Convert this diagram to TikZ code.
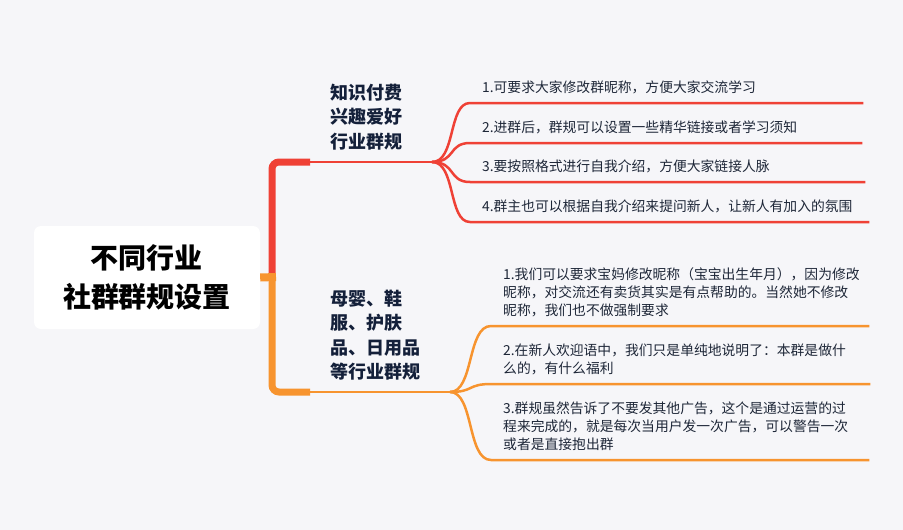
\documentclass[tikz,border=0pt]{standalone}
\usepackage{fontspec}
\setmainfont{Noto Sans CJK SC}
\usepackage{xcolor}
\usepackage{tikz}

\definecolor{bgc}{HTML}{F6F6F9}
\definecolor{redc}{HTML}{EF4136}
\definecolor{orgc}{HTML}{F7942F}
\definecolor{inkc}{HTML}{14203A}
\definecolor{txtc}{HTML}{1E2738}

\begin{document}
\begin{tikzpicture}[
    x=1pt, y=-1pt,
    rootbox/.style={fill=white, rounded corners=7pt, minimum width=226pt, minimum height=103pt, inner sep=0pt, align=center, font=\fontsize{28}{39}\selectfont\bfseries, text=black},
    lab/.style={anchor=west, inner sep=0pt, align=left, font=\fontsize{18}{24.5}\selectfont\bfseries, text=inkc},
    item/.style={anchor=south west, inner xsep=12pt, inner ysep=9pt, align=left, text width=#1, font=\fontsize{13.8}{18}\selectfont, text=txtc},
    trunk/.style={draw=#1, line width=7pt, rounded corners=7pt},
    twig/.style={draw=#1, line width=2.5pt},
]
\fill[bgc] (0,0) rectangle (903,530);

% Root
\node[rootbox] (root) at (147,277.5) {不同行业\\社群群规设置};
\coordinate (fork) at (272,277);
\coordinate (rfan) at (432,162);
\coordinate (ofan) at (450,392);

% Branch titles
\node[lab] (rlab) at (330,117) {知识付费\\兴趣爱好\\行业群规};
\node[lab] (olab) at (330,335) {母婴、鞋\\服、护肤\\品、日用品\\等行业群规};

% Red items
\node[item=369pt] (r1) at (470,103) {1.可要求大家修改群昵称，方便大家交流学习};
\node[item=368pt] (r2) at (470,143) {2.进群后，群规可以设置一些精华链接或者学习须知};
\node[item=371pt] (r3) at (470,182) {3.要按照格式进行自我介绍，方便大家链接人脉};
\node[item=375pt] (r4) at (470,222) {4.群主也可以根据自我介绍来提问新人，让新人有加入的氛围};

% Orange items
\node[item=354pt] (o1) at (491,326) {1.我们可以要求宝妈修改昵称（宝宝出生年月），因为修改\\昵称，对交流还有卖货其实是有点帮助的。当然她不修改\\昵称，我们也不做强制要求};
\node[item=355pt] (o2) at (491,384) {2.在新人欢迎语中，我们只是单纯地说明了：本群是做什\\么的，有什么福利};
\node[item=354pt] (o3) at (491,460) {3.群规虽然告诉了不要发其他广告，这个是通过运营的过\\程来完成的，就是每次当用户发一次广告，可以警告一次\\或者是直接抱出群};

% Trunk
\draw[twig=redc] (fork |- rfan) -- (rfan);
\draw[twig=orgc] (fork |- ofan) -- (ofan);
\draw[trunk=redc] (fork) |- ([xshift=-122pt]rfan);
\draw[trunk=orgc] (fork) |- ([xshift=-140pt]ofan);
\draw[draw=orgc, line width=8pt] (root.east) -- ([xshift=4pt]fork);

% Red fan
\draw[twig=redc] (rfan) .. controls +(24,0) and +(-22,0) .. (r1.south west) -- (r1.south east);
\draw[twig=redc] (rfan) .. controls +(24,0) and +(-22,0) .. (r2.south west) -- (r2.south east);
\draw[twig=redc] (rfan) .. controls +(24,0) and +(-22,0) .. (r3.south west) -- (r3.south east);
\draw[twig=redc] (rfan) .. controls +(24,0) and +(-22,0) .. (r4.south west) -- (r4.south east);

% Orange fan
\draw[twig=orgc] (ofan) .. controls +(24,0) and +(-24,0) .. (o1.south west) -- (o1.south east);
\draw[twig=orgc] (ofan) .. controls +(24,0) and +(-24,0) .. (o2.south west) -- (o2.south east);
\draw[twig=orgc] (ofan) .. controls +(24,0) and +(-24,0) .. (o3.south west) -- (o3.south east);
\end{tikzpicture}
\end{document}
